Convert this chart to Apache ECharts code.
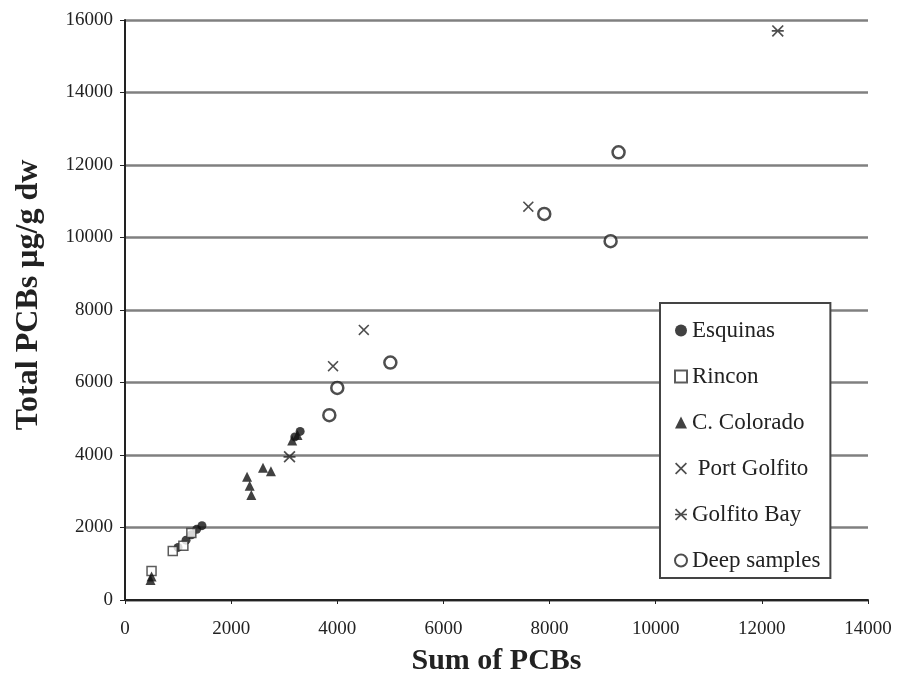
<!DOCTYPE html>
<html>
<head>
<meta charset="utf-8">
<script src="https://cdn.jsdelivr.net/npm/echarts@6/dist/echarts.min.js"></script>
<style>
  html, body { margin: 0; padding: 0; background: #fff; }
  #chart { width: 899px; height: 673px; }
</style>
</head>
<body>
<div id="chart"></div>
<script>
// values: [sum of PCBs, total PCBs]
const esquinas = [[1000, 1450], [1150, 1650], [1250, 1800], [1350, 1950], [1450, 2050], [3200, 4500], [3300, 4650]]
const rincon = [[500, 800], [900, 1350], [1100, 1500], [1250, 1850]]
const colorado = [[480, 550], [500, 650], [2300, 3400], [2350, 3150], [2380, 2900], [2600, 3650], [2750, 3550], [3150, 4400], [3250, 4550]]
const portGolfito = [[3920, 6450], [4500, 7450], [7600, 10850]]
const golfitoBay = [[3100, 3950], [12300, 15700]]
const deepSamples = [[3850, 5100], [4000, 5850], [5000, 6550], [7900, 10650], [9150, 9900], [9300, 12350]]

const serif = '"Liberation Serif", "DejaVu Serif", serif'

// marker shapes
const crossPath = 'path://M0,1 L1,0 L5,4 L9,0 L10,1 L6,5 L10,9 L9,10 L5,6 L1,10 L0,9 L4,5 Z'
const bayPath = 'path://M0,1 L1,0 L5,4 L9,0 L10,1 L6,5 L10,9 L9,10 L5,6 L1,10 L0,9 L4,5 Z M0,4.3 H10 V5.7 H0 Z'

const chart = echarts.init(document.getElementById('chart'))

const mkSeries = (name, data, symbol, size, style) => ({
  name: name,
  type: 'scatter',
  data: data,
  symbol: symbol,
  symbolSize: size,
  itemStyle: style,
})

const option = {
  animation: false,
  grid: { left: 125, right: 31, top: 20, bottom: 73, outerBoundsMode: 'none' },
  xAxis: {
    type: 'value',
    min: 0,
    max: 14000,
    interval: 2000,
    name: 'Sum of PCBs',
    nameLocation: 'middle',
    nameGap: 46,
    nameTextStyle: { fontFamily: serif, fontSize: 30, fontWeight: 'bold', color: '#222' },
    axisLine: { lineStyle: { color: '#222', width: 2 } },
    axisTick: { show: true, length: 4, lineStyle: { color: '#222' } },
    axisLabel: { fontFamily: serif, fontSize: 19, color: '#222', margin: 20, formatter: v => String(v) },
    splitLine: { show: false },
  },
  yAxis: {
    type: 'value',
    min: 0,
    max: 16000,
    interval: 2000,
    name: 'Total PCBs µg/g dw',
    nameLocation: 'middle',
    nameGap: 80,
    nameTextStyle: { fontFamily: serif, fontSize: 32, fontWeight: 'bold', color: '#222', padding: [0, 0, 0, 30] },
    axisLine: { show: true, lineStyle: { color: '#222', width: 2 } },
    axisTick: { show: true, length: 5, lineStyle: { color: '#222' } },
    axisLabel: { fontFamily: serif, fontSize: 19, color: '#222', margin: 12, formatter: v => String(v) },
    splitLine: { show: true, lineStyle: { color: '#808080', width: 2.5 } },
  },
  legend: {
    orient: 'vertical',
    left: 660,
    top: 303,
    padding: [16, 10, 6, 14],
    itemWidth: 12,
    itemHeight: 12,
    itemGap: 23,
    borderColor: '#444',
    borderWidth: 2,
    backgroundColor: '#fff',
    textStyle: { fontFamily: serif, fontSize: 23, color: '#222' },
    data: ['Esquinas', 'Rincon', 'C. Colorado', ' Port Golfito', 'Golfito Bay', 'Deep samples'],
  },
  series: [
    mkSeries('Esquinas', esquinas, 'circle', 9, { color: '#111' }),
    mkSeries('Rincon', rincon, 'rect', 9, { color: '#fff', borderColor: '#333', borderWidth: 1.5 }),
    mkSeries('C. Colorado', colorado, 'triangle', 10, { color: '#111' }),
    mkSeries(' Port Golfito', portGolfito, crossPath, 11, { color: '#222' }),
    mkSeries('Golfito Bay', golfitoBay, bayPath, 12, { color: '#222' }),
    mkSeries('Deep samples', deepSamples, 'circle', 12, { color: '#fff', borderColor: '#222', borderWidth: 2.5 }),
  ],
}

chart.setOption(option)
</script>
</body>
</html>
